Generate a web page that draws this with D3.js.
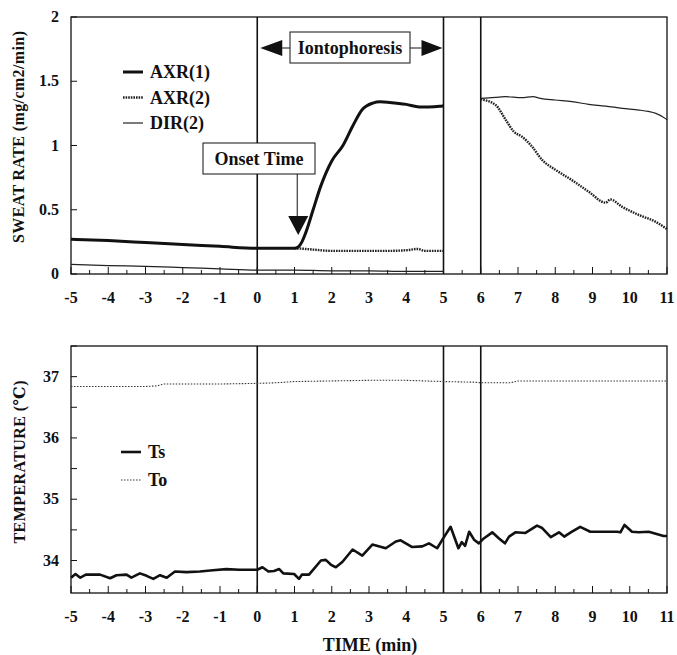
<!DOCTYPE html>
<html>
<head>
<meta charset="utf-8">
<script src="https://cdn.jsdelivr.net/npm/d3@7"></script>
<style>
  body { margin: 0; background: #fff; }
  svg text { font-family: "Liberation Serif", "DejaVu Serif", serif; font-weight: bold; fill: #111; }
</style>
</head>
<body>
<svg id="chart" width="677" height="655" font-family="Liberation Serif, DejaVu Serif, serif"></svg>
<script>
// ---- data ----
var xTicks = [-5,-4,-3,-2,-1,0,1,2,3,4,5,6,7,8,9,10,11];
var sweatTicks = [0, 0.5, 1, 1.5, 2];
var tempTicks = [34, 35, 36, 37];
var markers = [0, 5, 6];

// AXR(1) (solid, thick) - only during recording before the gap
var axr1Time = [-5,-4,-3,-2,-1,0,0.5,1,1.1,1.2,1.3,1.5,1.7,2.0,2.3,2.56,2.82,3.1,3.3,3.55,4.0,4.35,4.6,4.9,5];
var axr1Val  = [0.27,0.26,0.245,0.23,0.215,0.2,0.2,0.2,0.21,0.25,0.32,0.5,0.68,0.88,1.0,1.15,1.28,1.33,1.34,1.335,1.32,1.30,1.30,1.305,1.31];

// AXR(2) (dotted)
var axr2TimeA = [1,1.3,1.5,2,2.5,3,3.5,4,4.3,4.5,5];
var axr2ValA  = [0.2,0.195,0.19,0.18,0.18,0.18,0.18,0.185,0.195,0.18,0.18];
var axr2TimeB = [6,6.4,6.67,6.89,7.11,7.38,7.65,8.01,8.45,8.9,9.35,9.48,9.79,10.24,10.69,10.95,11];
var axr2ValB  = [1.36,1.315,1.2,1.107,1.068,0.99,0.887,0.81,0.73,0.64,0.555,0.58,0.524,0.46,0.407,0.36,0.35];

// DIR(2) (thin)
var dirTimeA = [-5,-4,-3,-2,-1,0,1,2,3,4,5];
var dirValA  = [0.075,0.065,0.06,0.05,0.04,0.03,0.03,0.025,0.025,0.02,0.02];
var dirTimeB = [6,6.4,6.65,7.1,7.4,7.6,8.0,8.45,8.9,9.35,9.8,10.25,10.5,10.7,10.95,11];
var dirValB  = [1.367,1.375,1.38,1.372,1.38,1.367,1.354,1.341,1.32,1.307,1.289,1.276,1.265,1.25,1.211,1.2];

// Ts (solid, thick)
var tsTime = [-5,-4.88,-4.75,-4.6,-4.22,-3.95,-3.78,-3.51,-3.38,-3.15,-2.97,-2.79,-2.61,-2.43,-2.21,-1.9,-1.54,-1.19,-0.83,-0.48,0,0.14,0.3,0.45,0.59,0.7,0.99,1.12,1.2,1.39,1.71,1.84,1.98,2.11,2.29,2.56,2.82,3.09,3.45,3.72,3.85,4.16,4.43,4.61,4.83,4.97,5.19,5.4,5.49,5.58,5.69,5.82,5.95,6.08,6.31,6.49,6.65,6.76,6.93,7.2,7.51,7.65,7.88,8.1,8.24,8.45,8.67,8.94,9.35,9.66,9.75,9.86,10.06,10.24,10.51,10.91,11];
var tsVal  = [33.72,33.78,33.72,33.77,33.77,33.71,33.76,33.77,33.72,33.79,33.75,33.7,33.76,33.72,33.82,33.81,33.82,33.84,33.86,33.85,33.85,33.89,33.82,33.83,33.86,33.79,33.78,33.7,33.77,33.77,34.0,34.01,33.93,33.89,33.98,34.18,34.08,34.26,34.2,34.31,34.33,34.22,34.23,34.28,34.2,34.34,34.55,34.2,34.3,34.24,34.47,34.34,34.28,34.36,34.46,34.36,34.28,34.39,34.46,34.45,34.57,34.53,34.38,34.46,34.39,34.47,34.55,34.47,34.47,34.47,34.46,34.58,34.47,34.46,34.47,34.4,34.4];

// To (dotted, thin)
var toTime = [-5,-3,-2.7,-2.5,-1,0,0.5,1,2,3,4,5,5.8,6,6.5,6.8,7,8,9,10,11];
var toVal  = [36.84,36.84,36.85,36.88,36.88,36.89,36.9,36.92,36.93,36.94,36.94,36.92,36.91,36.9,36.9,36.9,36.93,36.93,36.93,36.93,36.93];

function pts(t, v) { return t.map(function (d, i) { return [d, v[i]]; }); }

var svg = d3.select("#chart");
var left = 71, right = 667;

var x = d3.scaleLinear().domain([-5, 11]).range([left, right]);
var ySweat = d3.scaleLinear().domain([0, 2]).range([274, 17]);
var yTemp = d3.scaleLinear().domain([33.47, 37.5]).range([593, 346]);

function panel(y, yTicks, yFmt) {
  var top = y.range()[1], bottom = y.range()[0];
  var g = svg.append("g");
  g.append("rect")
    .attr("x", left).attr("y", top)
    .attr("width", right - left).attr("height", bottom - top)
    .attr("fill", "none").attr("stroke", "#111").attr("stroke-width", 1.3);

  // inward ticks on the time axis (integers long, halves short)
  var halfs = d3.range(-5, 11.01, 0.5);
  g.selectAll(".xt").data(halfs).join("line")
    .attr("x1", function (d) { return x(d); }).attr("x2", function (d) { return x(d); })
    .attr("y1", bottom)
    .attr("y2", function (d) { return bottom - (d % 1 === 0 ? 7 : 4); })
    .attr("stroke", "#111").attr("stroke-width", 1);

  var yMinor = d3.range(y.domain()[0] < 1 ? 0 : 34, y.domain()[1] + 0.001, 0.5);
  g.selectAll(".yt").data(yMinor).join("line")
    .attr("x1", left).attr("x2", left + 6)
    .attr("y1", function (d) { return y(d); }).attr("y2", function (d) { return y(d); })
    .attr("stroke", "#111").attr("stroke-width", 1);

  g.selectAll(".yl").data(yTicks).join("text")
    .attr("x", left - 12).attr("y", function (d) { return y(d) + 5; })
    .attr("text-anchor", "end").attr("font-size", 16)
    .text(yFmt);

  g.selectAll(".xl").data(xTicks).join("text")
    .attr("x", function (d) { return x(d); }).attr("y", bottom + 29)
    .attr("text-anchor", "middle").attr("font-size", 16)
    .text(function (d) { return d; });

  g.selectAll(".mk").data(markers).join("line")
    .attr("x1", function (d) { return x(d); }).attr("x2", function (d) { return x(d); })
    .attr("y1", top).attr("y2", bottom)
    .attr("stroke", "#111").attr("stroke-width", 1.6);
  return g;
}

var topG = panel(ySweat, sweatTicks, function (d) { return d; });
var botG = panel(yTemp, tempTicks, function (d) { return d; });

var lineS = d3.line().x(function (d) { return x(d[0]); }).y(function (d) { return ySweat(d[1]); }).curve(d3.curveMonotoneX);
var lineT = d3.line().x(function (d) { return x(d[0]); }).y(function (d) { return yTemp(d[1]); });

var solid = { stroke: "#111", width: 3, dash: null };
var dotted = { stroke: "#222", width: 2.4, dash: "1.6,1" };
var thin = { stroke: "#222", width: 1.2, dash: null };
var fine = { stroke: "#333", width: 1.1, dash: "1.5,1.5" };

function draw(g, gen, data, st) {
  g.append("path").datum(data).attr("d", gen)
    .attr("fill", "none").attr("stroke", st.stroke)
    .attr("stroke-width", st.width)
    .attr("stroke-dasharray", st.dash)
    .attr("stroke-linejoin", "round");
}

draw(topG, lineS, pts(dirTimeA, dirValA), thin);
draw(topG, lineS, pts(dirTimeB, dirValB), thin);
draw(topG, lineS, pts(axr2TimeA, axr2ValA), dotted);
draw(topG, lineS, pts(axr2TimeB, axr2ValB), dotted);
draw(topG, lineS, pts(axr1Time, axr1Val), solid);

draw(botG, lineT, pts(toTime, toVal), fine);
draw(botG, lineT, pts(tsTime, tsVal), { stroke: "#111", width: 2.6, dash: null });

// legends
function legend(g, items, lx, ly, gap) {
  items.forEach(function (it, i) {
    var yy = ly + i * gap;
    g.append("line").attr("x1", lx).attr("x2", lx + 20).attr("y1", yy).attr("y2", yy)
      .attr("stroke", it.st.stroke).attr("stroke-width", it.st.width)
      .attr("stroke-dasharray", it.st.dash);
    g.append("text").attr("x", lx + 27).attr("y", yy + 6)
      .attr("font-size", 18).text(it.name);
  });
}
legend(topG, [{ name: "AXR(1)", st: solid }, { name: "AXR(2)", st: dotted }, { name: "DIR(2)", st: thin }], 123, 72, 25.5);
legend(botG, [{ name: "Ts", st: { stroke: "#111", width: 2.6 } }, { name: "To", st: fine }], 121, 452, 28);

// Iontophoresis annotation
var ay = 48;
topG.append("rect").attr("x", 290).attr("y", 32).attr("width", 120).attr("height", 31)
  .attr("fill", "#fff").attr("stroke", "#111").attr("stroke-width", 1);
topG.append("text").attr("x", 350).attr("y", ay + 6).attr("text-anchor", "middle")
  .attr("font-size", 18).text("Iontophoresis");
topG.append("line").attr("x1", x(0) + 22).attr("x2", 290).attr("y1", ay).attr("y2", ay)
  .attr("stroke", "#111").attr("stroke-width", 1);
topG.append("line").attr("x1", 410).attr("x2", x(5) - 22).attr("y1", ay).attr("y2", ay)
  .attr("stroke", "#111").attr("stroke-width", 1);
topG.append("path")
  .attr("d", "M" + (x(0) + 3) + "," + ay + "L" + (x(0) + 25) + "," + (ay - 8) + "L" + (x(0) + 25) + "," + (ay + 8) + "Z")
  .attr("fill", "#111");
topG.append("path")
  .attr("d", "M" + (x(5) - 1) + "," + ay + "L" + (x(5) - 22) + "," + (ay - 8) + "L" + (x(5) - 22) + "," + (ay + 8) + "Z")
  .attr("fill", "#111");

// Onset Time annotation
var ox = x(1.1);
topG.append("rect").attr("x", 203).attr("y", 143).attr("width", 112).attr("height", 31)
  .attr("fill", "#fff").attr("stroke", "#111").attr("stroke-width", 1);
topG.append("text").attr("x", 259).attr("y", 165).attr("text-anchor", "middle")
  .attr("font-size", 18).text("Onset Time");
topG.append("line").attr("x1", ox - 1).attr("x2", ox - 1).attr("y1", 174).attr("y2", 217)
  .attr("stroke", "#111").attr("stroke-width", 1);
topG.append("path")
  .attr("d", "M" + (ox - 10) + ",216L" + (ox + 10) + ",216L" + ox + ",235Z")
  .attr("fill", "#111");

// axis titles
svg.append("text").attr("transform", "translate(24,137) rotate(-90)")
  .attr("text-anchor", "middle").attr("font-size", 16)
  .attr("textLength", 212).attr("lengthAdjust", "spacing")
  .text("SWEAT RATE (mg/cm2/min)");
svg.append("text").attr("transform", "translate(25,462) rotate(-90)")
  .attr("text-anchor", "middle").attr("font-size", 16)
  .attr("textLength", 163).attr("lengthAdjust", "spacing")
  .text("TEMPERATURE (℃)");
svg.append("text").attr("x", 370).attr("y", 651).attr("text-anchor", "middle")
  .attr("font-size", 18).text("TIME (min)");
</script>
</body>
</html>
